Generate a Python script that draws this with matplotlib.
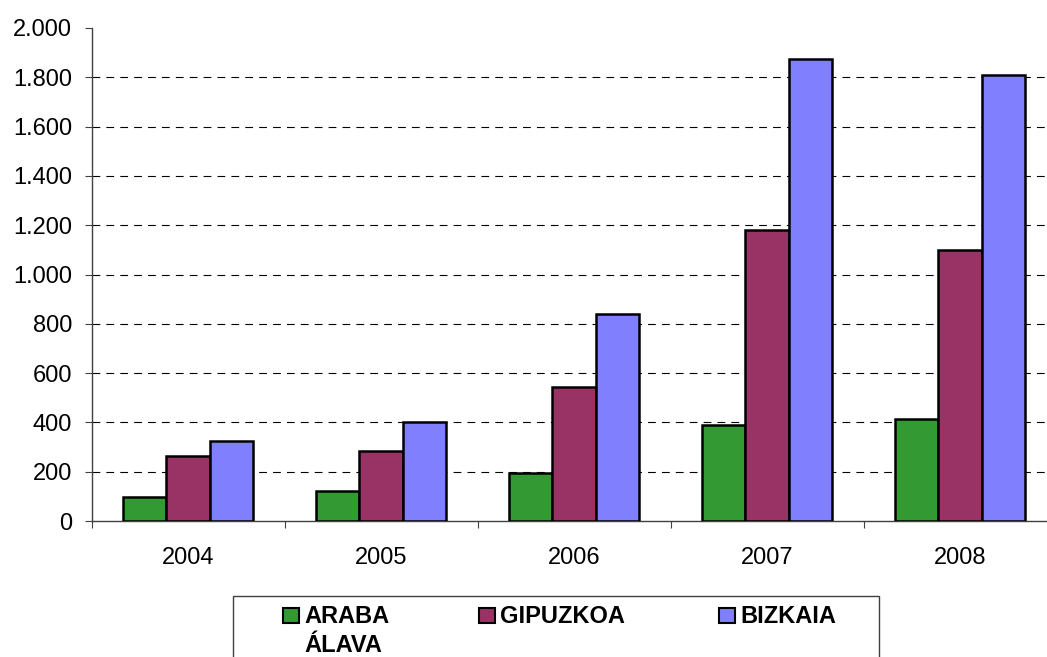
import numpy as np
import matplotlib
matplotlib.use("Agg")
import matplotlib.pyplot as plt
from matplotlib.ticker import FuncFormatter, FixedLocator
from matplotlib.patches import Rectangle

plt.rcParams['font.family'] = ['Liberation Sans', 'DejaVu Sans']

# data
years = ['2004', '2005', '2006', '2007', '2008']
series = ['ARABA\nÁLAVA', 'GIPUZKOA', 'BIZKAIA']
araba = [99, 122, 193, 389, 414]
gipuzkoa = [265, 284, 545, 1180, 1099]
bizkaia = [326, 402, 840, 1874, 1811]
colors = ['#339933', '#993366', '#8080FF']
yticks = [0, 200, 400, 600, 800, 1000, 1200, 1400, 1600, 1800, 2000]

W, H = 1047, 657
fig = plt.figure(figsize=(W / 100, H / 100), dpi=100)
# plot area runs past the right edge of the picture, as in the reference
ax = fig.add_axes([91.5 / W, 136 / H, 965 / W, 493 / H])

x = np.arange(len(years))
bw = 0.223
for i, vals in enumerate([araba, gipuzkoa, bizkaia]):
    ax.bar(x + (i - 1) * bw, vals, bw, color=colors[i], edgecolor='black',
           linewidth=1.8, zorder=3)

ax.set_xlim(-0.5, len(years) - 0.5)
ax.set_ylim(0, 2000)
ax.yaxis.set_major_locator(FixedLocator(yticks))
ax.yaxis.set_major_formatter(FuncFormatter(lambda v, p: f"{int(v):,}".replace(',', '.')))

ax.set_xticks(x)
ax.set_xticklabels(years)
ax.set_xticks(np.arange(len(years) + 1) - 0.5, minor=True)
ax.tick_params(axis='x', which='major', length=0, pad=19, labelsize=17)
ax.tick_params(axis='x', which='minor', length=5, width=0.8, color='#404040')
ax.tick_params(axis='y', length=5, width=0.8, color='#404040', pad=9, labelsize=17)

ax.grid(axis='y', color='black', linestyle=(0, (7, 5.5)), linewidth=0.8, zorder=0)
ax.get_ygridlines()[-1].set_visible(False)
ax.get_ygridlines()[0].set_visible(False)
ax.set_axisbelow(True)

for s in ['top', 'right']:
    ax.spines[s].set_visible(False)
for s in ['left', 'bottom']:
    ax.spines[s].set_color('#404040')
    ax.spines[s].set_linewidth(1.0)

# legend box, its bottom cut off by the picture edge
fig.patches.append(Rectangle((233 / W, -0.02), (879 - 233) / W, 0.02 + (657 - 596) / H,
                             transform=fig.transFigure, fill=False,
                             edgecolor='#404040', linewidth=1.0))
legend_x = [283, 479, 719]
for name, c, lx in zip(series, colors, legend_x):
    fig.patches.append(Rectangle((lx / W, 1 - 623 / H), 16 / W, 15 / H,
                                 transform=fig.transFigure, facecolor=c,
                                 edgecolor='black', linewidth=1.5))
    for j, line in enumerate(name.split('\n')):
        fig.text((lx + 21) / W, 1 - (623 + 29 * j) / H, line, fontsize=17,
                 fontweight='bold', va='baseline', ha='left')

fig.savefig('out.png', dpi=100)
